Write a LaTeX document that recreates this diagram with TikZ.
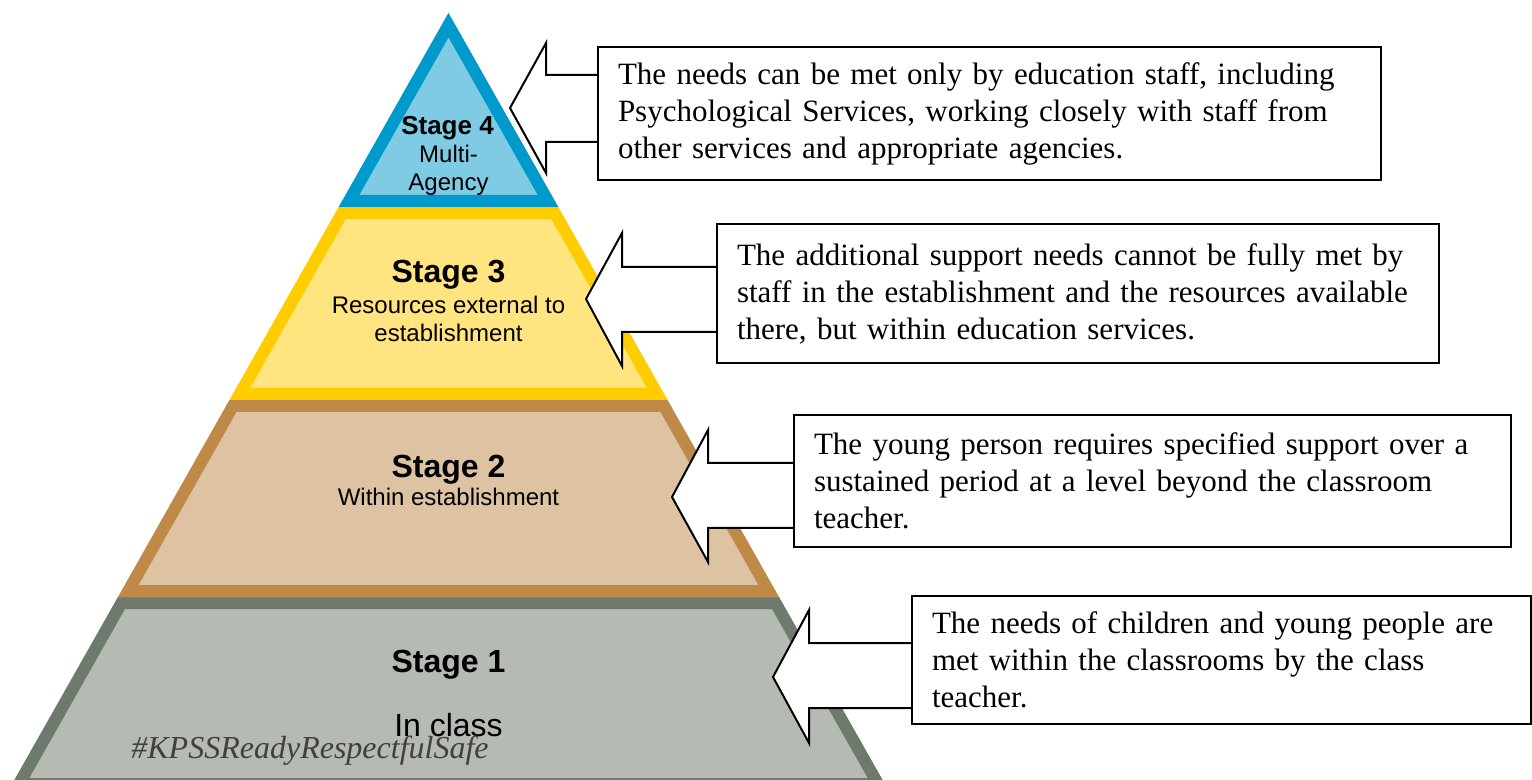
\documentclass[tikz,border=0pt]{standalone}
\usepackage{fontspec}
\setmainfont{Liberation Serif}
\newfontfamily\arialfont{Liberation Sans}
\usetikzlibrary{calc}
\pgfdeclarelayer{bg}
\pgfdeclarelayer{mid}
\pgfsetlayers{bg,mid,main}
\definecolor{sfourdark}{RGB}{0,153,204}
\definecolor{sfourlight}{RGB}{127,203,228}
\definecolor{sthreedark}{RGB}{255,204,0}
\definecolor{sthreelight}{RGB}{255,228,128}
\definecolor{stwodark}{RGB}{191,138,72}
\definecolor{stwolight}{RGB}{222,195,163}
\definecolor{sonedark}{RGB}{111,122,110}
\definecolor{sonelight}{RGB}{181,186,179}
\definecolor{tagcol}{RGB}{64,64,64}
\newcommand\stagelayer[3]{\begin{scope}\clip #3;\fill[#1] #3;\draw[#2,line width=12pt,line join=miter] #3;\end{scope}}
\newcommand\boxline[1]{\mbox{#1}}
\tikzset{
  descbox/.style 2 args={draw=black, fill=white, line width=1pt, inner xsep=10pt, inner ysep=0pt,
    text width=#1, minimum height=#2, align=left,
    font=\fontsize{15.5pt}{18.5pt}\selectfont},
  callout/.style={draw=black, fill=white, line width=1pt, line join=miter},
  stitle/.style={anchor=base, inner sep=0pt, font=\arialfont\bfseries\fontsize{16pt}{19pt}\selectfont},
  sfourtitle/.style={anchor=base, inner sep=0pt, font=\arialfont\bfseries\fontsize{13pt}{15pt}\selectfont},
  ssub/.style={anchor=base, inner sep=0pt, font=\arialfont\fontsize{12pt}{14pt}\selectfont},
  sbig/.style={anchor=base, inner sep=0pt, font=\arialfont\fontsize{16pt}{19pt}\selectfont},
  tag/.style={anchor=base west, inner sep=0pt, text=tagcol, font=\itshape\fontsize{16pt}{19pt}\selectfont}
}
\begin{document}
\begin{tikzpicture}[x=0.5pt,y=-0.5pt]
\clip (0,0) rectangle (1532,780);
\begin{pgfonlayer}{bg}
\fill[white] (0,0) rectangle (1532,780);
\stagelayer{sonelight}{sonedark}{(118,597) -- (779,597) -- (888.3,790) -- (8.7,790) -- cycle}
\stagelayer{stwolight}{stwodark}{(229.5,400) -- (667.5,400) -- (779,597) -- (118,597) -- cycle}
\stagelayer{sthreelight}{sthreedark}{(338.7,207) -- (558.3,207) -- (667.5,400) -- (229.5,400) -- cycle}
\stagelayer{sfourlight}{sfourdark}{(448.5,13) -- (558.3,207) -- (338.7,207) -- cycle}
\node[sfourtitle] (s4t) at (447.5,135) {Stage 4};
\node[ssub] (s4a) at (448.5,163) {Multi-};
\node[ssub] (s4b) at (448.5,191) {Agency};
\node[stitle] (s3t) at (448.5,283) {Stage 3};
\node[ssub] (s3a) at (448.5,314) {Resources external to};
\node[ssub] (s3b) at (448.5,342) {establishment};
\node[stitle] (s2t) at (448.5,478) {Stage 2};
\node[ssub] (s2a) at (448.5,506) {Within establishment};
\node[stitle] (s1t) at (448.5,672) {Stage 1};
\node[sbig] (s1a) at (448.5,736) {In class};
\node[tag] (tag) at (131,758) {\#KPSSReadyRespectfulSafe};
\end{pgfonlayer}

\node[descbox={371.5pt}{66.5pt}] (b1) at (989.5,113.5)
  {\boxline{The needs can be met only by education staff, including}\\
   \boxline{Psychological Services, working closely with staff from}\\
   \boxline{other services and appropriate agencies.}};
\node[descbox={341pt}{69.5pt}] (b2) at (1078,293.5)
  {\boxline{The additional support needs cannot be fully met by}\\
   \boxline{staff in the establishment and the resources available}\\
   \boxline{there, but within education services.}};
\node[descbox={338.5pt}{66pt}] (b3) at (1152.5,481)
  {\boxline{The young person requires specified support over a}\\
   \boxline{sustained period at a level beyond the classroom}\\
   \boxline{teacher.}};
\node[descbox={289.5pt}{64pt}] (b4) at (1221.5,660)
  {\boxline{The needs of children and young people are}\\
   \boxline{met within the classrooms by the class}\\
   \boxline{teacher.}};

\begin{pgfonlayer}{mid}
\draw[callout] (b1.west |- 0,75) -- (546,75) -- (546,43) -- (510,108) -- (546,173) -- (546,142) -- (b1.west |- 0,142);
\draw[callout] (b2.west |- 0,267) -- (622,267) -- (622,233) -- (586,299) -- (622,366) -- (622,332) -- (b2.west |- 0,332);
\draw[callout] (b3.west |- 0,463) -- (708,463) -- (708,430) -- (672,497) -- (708,562) -- (708,528) -- (b3.west |- 0,528);
\draw[callout] (b4.west |- 0,643) -- (809,643) -- (809,610) -- (773,677) -- (809,743) -- (809,708) -- (b4.west |- 0,708);
\end{pgfonlayer}
\end{tikzpicture}
\end{document}
